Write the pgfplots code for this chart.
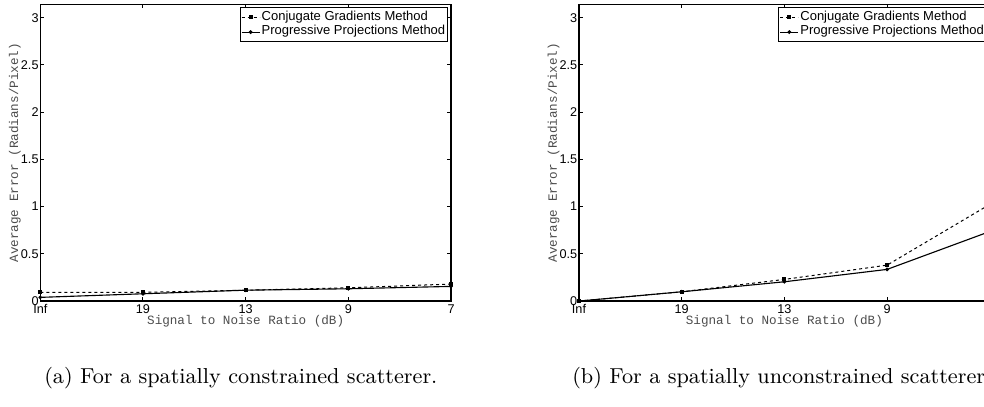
\documentclass[border=0pt]{standalone}
\usepackage{pgfplots}
\pgfplotsset{compat=1.18}
\usepackage{fontspec}
\newfontfamily\arial{Liberation Sans}
\newfontfamily\cour{Liberation Mono}

% 1 px of the reference = 0.4pt
\pgfplotsset{
  snrplot/.style={
    scale only axis,
    width=164.3pt, height=118.7pt,
    xmin=0, xmax=4, ymin=0, ymax=3.14159,
    xtick={0,1,2,3,4},
    xticklabels={Inf,19,13,9,7},
    ytick={0,0.5,1,1.5,2,2.5,3},
    /pgf/number format/assume math mode=true,
    tick align=inside,
    major tick length=1.6pt,
    axis line style={line width=0.55pt},
    every tick/.style={black, line width=0.4pt},
    ticklabel style={font=\arial\fontsize{5.07}{6}\selectfont},
    yticklabel style={inner sep=0.5pt},
    xticklabel style={inner sep=1.2pt},
    xlabel={Signal to Noise Ratio (dB)},
    ylabel={Average Error (Radians/Pixel)},
    label style={font=\cour\fontsize{5.05}{6}\selectfont, text=black!70},
    xlabel style={at={([yshift=-7.9pt]axis description cs:0.5,0)}, anchor=center},
    ylabel style={at={([xshift=-10.2pt]axis description cs:0,0.5)}, anchor=center},
    legend cell align=left,
    legend style={at={(1,1)}, anchor=north east, xshift=-1.1pt, yshift=-1.2pt,
      font=\arial\fontsize{5.2}{6}\selectfont, draw=black, line width=0.45pt,
      inner xsep=0.4pt, inner ysep=0.6pt, row sep=-0.6pt,
      nodes={inner sep=0.6pt},
      /tikz/every even column/.append style={column sep=0pt}},
    legend image code/.code={
      \draw[mark repeat=2, mark phase=2, #1]
        plot coordinates {(0pt,0pt) (3.6pt,0pt) (7.2pt,0pt)};},
    cg/.style={black, line width=0.4pt, dash pattern=on 1.2pt off 1.2pt,
      mark=square*, mark size=0.6pt, mark options={solid}},
    pp/.style={black, line width=0.45pt, mark=*, mark size=0.5pt}
  }
}

\begin{document}
\begin{tikzpicture}
\useasboundingbox (0pt,0pt) rectangle (393.6pt,-162.8pt);

\begin{axis}[snrplot, at={(16.12pt,-1.72pt)}, anchor=north west]
\addplot[cg] coordinates {(0,0.092) (1,0.092) (2,0.115) (3,0.14) (4,0.18)};
\addlegendentry{Conjugate Gradients Method}
\addplot[pp] coordinates {(0,0.039) (1,0.077) (2,0.115) (3,0.13) (4,0.155)};
\addlegendentry{Progressive Projections Method}
\end{axis}

\begin{axis}[snrplot, at={(231.6pt,-1.72pt)}, anchor=north west]
\addplot[cg] coordinates {(0,0) (1,0.098) (2,0.229) (3,0.38) (4,1.023)};
\addlegendentry{Conjugate Gradients Method}
\addplot[pp] coordinates {(0,0) (1,0.098) (2,0.204) (3,0.335) (4,0.736)};
\addlegendentry{Progressive Projections Method}
\end{axis}

\node[anchor=base west, font=\fontsize{8.65}{10.4}\selectfont] at (14.2pt,-153.2pt)
  {(a) For a spatially constrained scatterer.};
\node[anchor=base west, font=\fontsize{8.65}{10.4}\selectfont] at (225.4pt,-153.2pt)
  {(b) For a spatially unconstrained scatterer.};
\end{tikzpicture}
\end{document}
